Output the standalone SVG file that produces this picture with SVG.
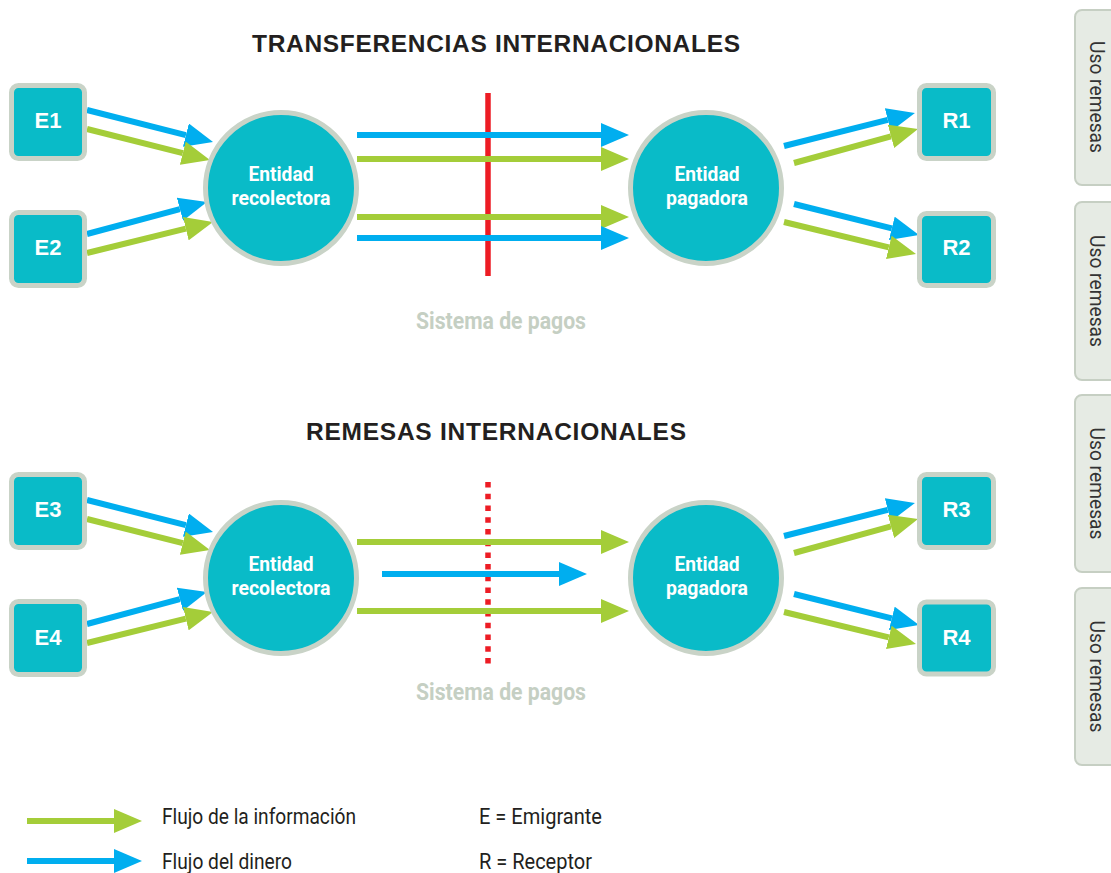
<svg xmlns="http://www.w3.org/2000/svg" width="1111" height="873" viewBox="0 0 1111 873">
<style>
.box{fill:#09bbc8;stroke:#c9d3c7;stroke-width:5}
.circ{fill:#09bbc8;stroke:#c9d3c7;stroke-width:5}
.lbl{font-family:"Liberation Sans",Arial,sans-serif;font-weight:bold;font-size:22px;fill:#ffffff;text-anchor:middle}
.ctext{font-family:Roboto,"Liberation Sans",sans-serif;font-weight:bold;font-size:21px;fill:#ffffff;text-anchor:middle}
.title{font-family:"Liberation Sans",Arial,sans-serif;font-weight:bold;font-size:24.5px;fill:#231f20;text-anchor:middle}
.sys{font-family:Roboto,"Liberation Sans",sans-serif;font-weight:bold;font-size:24px;fill:#c5cfc3;text-anchor:middle}
.blue{stroke:#00aeef;stroke-width:6;fill:none;marker-end:url(#hb)}
.green{stroke:#a4cd39;stroke-width:6;fill:none;marker-end:url(#hg)}
.leg{font-family:Roboto,"Liberation Sans",sans-serif;font-size:22px;fill:#231f20}
.tab{fill:#e6ebe4;stroke:#c6cfc3;stroke-width:2}
.tabt{font-family:Roboto,"Liberation Sans",sans-serif;font-size:21px;fill:#333333;text-anchor:middle}
</style>
<defs>
<marker id="hb" markerUnits="userSpaceOnUse" markerWidth="30" markerHeight="24" viewBox="0 0 30 24" refX="0" refY="12" orient="auto"><path d="M0,0 L28,12 L0,24 z" fill="#00aeef"/></marker>
<marker id="hg" markerUnits="userSpaceOnUse" markerWidth="30" markerHeight="24" viewBox="0 0 30 24" refX="0" refY="12" orient="auto"><path d="M0,0 L28,12 L0,24 z" fill="#a4cd39"/></marker>
</defs>
<rect width="1111" height="873" fill="#ffffff"/>

<text class="title" x="496" y="52" textLength="488" lengthAdjust="spacing">TRANSFERENCIAS INTERNACIONALES</text>
<text class="title" x="496" y="440" textLength="380" lengthAdjust="spacing">REMESAS INTERNACIONALES</text>

<g id="dividers">
<line x1="488" y1="93" x2="488" y2="276" stroke="#ed1c24" stroke-width="5.5"/>
<line x1="488" y1="482" x2="488" y2="664" stroke="#ed1c24" stroke-width="5.5" stroke-dasharray="5.5 6.23"/>
</g>

<text class="sys" x="501" y="329" textLength="170" lengthAdjust="spacingAndGlyphs">Sistema de pagos</text>
<text class="sys" x="501" y="700" textLength="170" lengthAdjust="spacingAndGlyphs">Sistema de pagos</text>

<g id="connectors">
<line class="blue" x1="87" y1="110" x2="185.9" y2="135.1"/>
<line class="green" x1="87" y1="129" x2="182.8" y2="153.2"/>
<line class="blue" x1="87" y1="234" x2="179.9" y2="209.2"/>
<line class="green" x1="87" y1="253" x2="185.8" y2="228.7"/>
<line class="blue" x1="357" y1="135" x2="601" y2="135"/>
<line class="green" x1="357" y1="159" x2="601" y2="159"/>
<line class="green" x1="357" y1="217" x2="601" y2="217"/>
<line class="blue" x1="357" y1="238" x2="601" y2="238"/>
<line class="blue" x1="784" y1="146" x2="887.8" y2="119.8"/>
<line class="green" x1="794" y1="163" x2="891" y2="136.4"/>
<line class="blue" x1="794" y1="204" x2="891.8" y2="228.3"/>
<line class="green" x1="784" y1="222" x2="888.8" y2="247.4"/>

<line class="blue" x1="87" y1="500" x2="185.9" y2="525.1"/>
<line class="green" x1="87" y1="519" x2="182.8" y2="543.2"/>
<line class="blue" x1="87" y1="624" x2="179.9" y2="599.2"/>
<line class="green" x1="87" y1="643" x2="185.8" y2="618.7"/>
<line class="green" x1="357" y1="542" x2="601" y2="542"/>
<line class="blue" x1="382" y1="574" x2="559" y2="574"/>
<line class="green" x1="357" y1="611" x2="601" y2="611"/>
<line class="blue" x1="784" y1="536" x2="887.8" y2="509.8"/>
<line class="green" x1="794" y1="553" x2="891" y2="526.4"/>
<line class="blue" x1="794" y1="594" x2="891.8" y2="618.3"/>
<line class="green" x1="784" y1="612" x2="888.8" y2="637.4"/>

<line class="green" x1="27" y1="821" x2="114" y2="821"/>
<line class="blue" x1="27" y1="861" x2="114" y2="861"/>
</g>

<g id="E1"><rect class="box" x="11.5" y="85.5" width="73" height="73" rx="7"/><text class="lbl" x="48" y="128">E1</text></g>
<g id="E2"><rect class="box" x="11.5" y="212.5" width="73" height="73" rx="7"/><text class="lbl" x="48" y="255">E2</text></g>
<g id="E3"><rect class="box" x="11.5" y="474.5" width="73" height="73" rx="7"/><text class="lbl" x="48" y="517">E3</text></g>
<g id="E4"><rect class="box" x="11.5" y="601.5" width="73" height="73" rx="7"/><text class="lbl" x="48" y="645">E4</text></g>
<g id="R1"><rect class="box" x="919.5" y="85.5" width="74" height="73" rx="7"/><text class="lbl" x="956.5" y="128">R1</text></g>
<g id="R2"><rect class="box" x="919.5" y="213.5" width="74" height="72" rx="7"/><text class="lbl" x="956.5" y="255">R2</text></g>
<g id="R3"><rect class="box" x="919.5" y="474.5" width="74" height="73" rx="7"/><text class="lbl" x="956.5" y="517">R3</text></g>
<g id="R4"><rect class="box" x="919.5" y="602" width="74" height="72" rx="7"/><text class="lbl" x="956.5" y="645">R4</text></g>

<g id="recolectora1"><circle class="circ" cx="281" cy="188" r="75.5"/><text class="ctext" x="281" y="180.5" textLength="65" lengthAdjust="spacingAndGlyphs">Entidad</text><text class="ctext" x="281" y="205" textLength="99" lengthAdjust="spacingAndGlyphs">recolectora</text></g>
<g id="pagadora1"><circle class="circ" cx="706" cy="188" r="75.5"/><text class="ctext" x="707" y="180.5" textLength="65" lengthAdjust="spacingAndGlyphs">Entidad</text><text class="ctext" x="707" y="205" textLength="82" lengthAdjust="spacingAndGlyphs">pagadora</text></g>
<g id="recolectora2"><circle class="circ" cx="281" cy="578" r="75.5"/><text class="ctext" x="281" y="570.5" textLength="65" lengthAdjust="spacingAndGlyphs">Entidad</text><text class="ctext" x="281" y="595" textLength="99" lengthAdjust="spacingAndGlyphs">recolectora</text></g>
<g id="pagadora2"><circle class="circ" cx="706" cy="578" r="75.5"/><text class="ctext" x="707" y="570.5" textLength="65" lengthAdjust="spacingAndGlyphs">Entidad</text><text class="ctext" x="707" y="595" textLength="82" lengthAdjust="spacingAndGlyphs">pagadora</text></g>

<g id="legend">
<text class="leg" x="162" y="824" textLength="194" lengthAdjust="spacingAndGlyphs">Flujo de la información</text>
<text class="leg" x="162" y="869" textLength="130" lengthAdjust="spacingAndGlyphs">Flujo del dinero</text>
<text class="leg" x="479" y="824" textLength="123" lengthAdjust="spacingAndGlyphs">E = Emigrante</text>
<text class="leg" x="479" y="869" textLength="113" lengthAdjust="spacingAndGlyphs">R = Receptor</text>
</g>

<g id="tab1"><rect class="tab" x="1075" y="10" width="60" height="175" rx="7"/><text class="tabt" transform="translate(1090,97) rotate(90)" textLength="112" lengthAdjust="spacingAndGlyphs">Uso remesas</text></g>
<g id="tab2"><rect class="tab" x="1075" y="202" width="60" height="178" rx="7"/><text class="tabt" transform="translate(1090,291) rotate(90)" textLength="112" lengthAdjust="spacingAndGlyphs">Uso remesas</text></g>
<g id="tab3"><rect class="tab" x="1075" y="395" width="60" height="177" rx="7"/><text class="tabt" transform="translate(1090,483.5) rotate(90)" textLength="112" lengthAdjust="spacingAndGlyphs">Uso remesas</text></g>
<g id="tab4"><rect class="tab" x="1075" y="588" width="60" height="177" rx="7"/><text class="tabt" transform="translate(1090,676.5) rotate(90)" textLength="112" lengthAdjust="spacingAndGlyphs">Uso remesas</text></g>
</svg>
